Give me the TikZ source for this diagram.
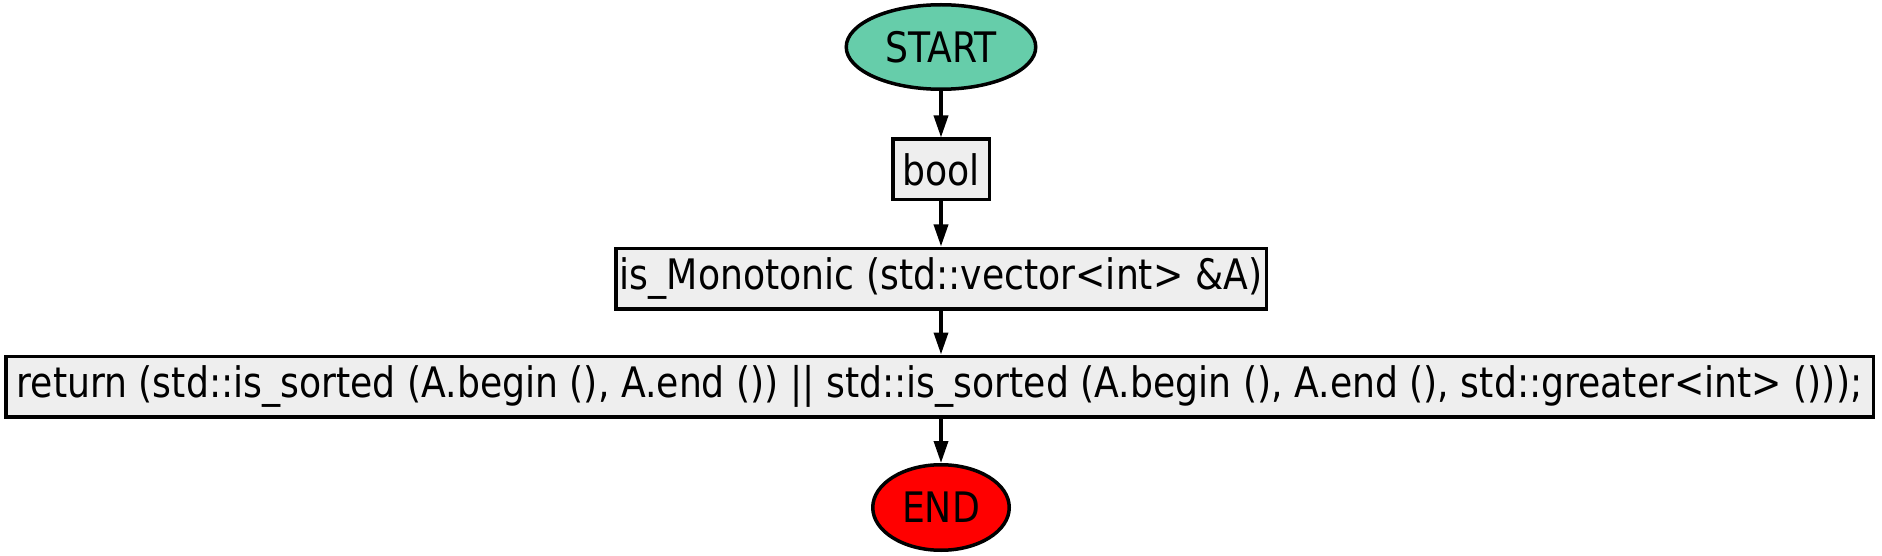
\documentclass[tikz,border=0pt]{standalone}
\usepackage{fontspec}
\setmainfont{DejaVu Sans}[FakeStretch=0.862]
\usetikzlibrary{arrows.meta,shapes.geometric}
\definecolor{startfill}{HTML}{66CDAA}
\definecolor{boxfill}{HTML}{EEEEEE}
\begin{document}
\begin{tikzpicture}[x=1pt,y=-1pt,
  base/.style={draw=black,line width=3.5pt,inner sep=0pt,font=\fontsize{42}{48}\selectfont},
  term/.style={base,ellipse},
  stepbox/.style={base,rectangle,fill=boxfill,minimum height=60.5pt},
  conn/.style={line width=3.5pt,-{Triangle[length=22pt,width=14pt]}}]
\useasboundingbox (0,0) rectangle (1882,556);
\node[term,fill=startfill,minimum width=189.5pt,minimum height=84.5pt] (start) at (941,47) {START};
\node[stepbox,minimum width=96.5pt] (bool) at (941,169.5) {bool};
\node[stepbox,minimum width=650.5pt] (func) at (941,278.5) {is\_Monotonic (std::vector<int> \&A)};
\node[stepbox,minimum width=1867.5pt] (ret) at (939.5,386.5) {return (std::is\_sorted (A.begin (), A.end ()) || std::is\_sorted (A.begin (), A.end (), std::greater<int> ()));};
\node[term,fill=red,minimum width=136.5pt,minimum height=85.5pt] (end) at (941,507.5) {END};
\draw[conn] (start) -- (bool);
\draw[conn] (bool) -- (func);
\draw[conn] (func) -- (ret.north -| func.south);
\draw[conn] (ret.south -| end.north) -- (end);
\end{tikzpicture}
\end{document}
